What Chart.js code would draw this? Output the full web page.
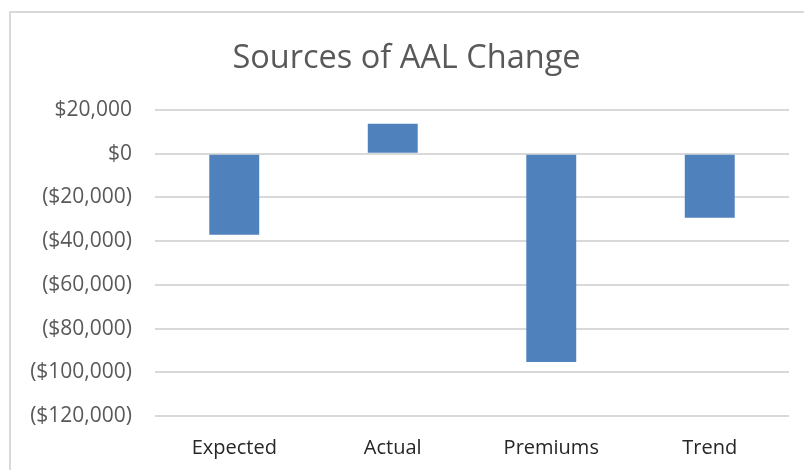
<!DOCTYPE html>
<html>
<head>
<meta charset="utf-8">
<script src="https://cdn.jsdelivr.net/npm/chart.js@4"></script>
<style>
    body { margin: 0; background: #fff; }
    #wrap { position: relative; width: 804px; height: 470px; overflow: hidden; }
    #marco { position: absolute; left: 9px; top: 11px; width: 820px; height: 480px;
             border-top: 2px solid #d9d9d9; border-left: 2px solid #d9d9d9; pointer-events: none; }
</style>
</head>
<body>
<div id="wrap">
    <canvas id="aalGrafico" width="804" height="470"></canvas>
    <div id="marco"></div>
</div>
<script>
var categorias = ["Expected", "Actual", "Premiums", "Trend"];
var cambios = [-37100, 13700, -95300, -29300];
var ejeMin = -120000;
var ejeMax = 20000;
var ejePaso = 20000;

function formatoDolar(v) {
    var txt = "$" + Math.abs(v).toLocaleString("en-US");
    return v < 0 ? "(" + txt + ")" : txt;
}

document.addEventListener("DOMContentLoaded", function () {
    // Gráfico de cambios del AAL (Barras)
    var ctx = document.getElementById("aalGrafico").getContext("2d");
    new Chart(ctx, {
        type: "bar",
        data: {
            labels: categorias,
            datasets: [{
                label: "AAL",
                data: cambios,
                backgroundColor: "#4f81bd",
                borderWidth: 0,
                barPercentage: 0.315,
                categoryPercentage: 1
            }]
        },
        options: {
            responsive: false,
            animation: false,
            // padding izquierdo para acercar el título al centro del original
            layout: { padding: { left: 24, right: 15, top: 0, bottom: 0 } },
            plugins: {
                legend: { display: false },
                tooltip: { enabled: false },
                title: {
                    display: true,
                    text: "Sources of AAL Change",
                    color: "#595959",
                    font: { family: "'Open Sans'", size: 32.5, weight: "normal" },
                    padding: { top: 39, bottom: 32 }
                }
            },
            scales: {
                x: {
                    grid: { display: false },
                    border: { display: false },
                    ticks: {
                        color: "#262626",
                        font: { family: "'Open Sans'", size: 20 },
                        padding: 12,
                        maxRotation: 0
                    },
                    afterFit: function (s) { s.height = 54; }
                },
                y: {
                    min: ejeMin,
                    max: ejeMax,
                    border: { display: false },
                    grid: { color: "#d9d9d9", lineWidth: 2, drawTicks: false },
                    ticks: {
                        stepSize: ejePaso,
                        color: "#595959",
                        font: { family: "'Open Sans'", size: 21 },
                        padding: 23,
                        callback: function (v) { return formatoDolar(v); }
                    },
                    afterFit: function (s) { s.width = 131; }
                }
            }
        }
    });
});
</script>
</body>
</html>
